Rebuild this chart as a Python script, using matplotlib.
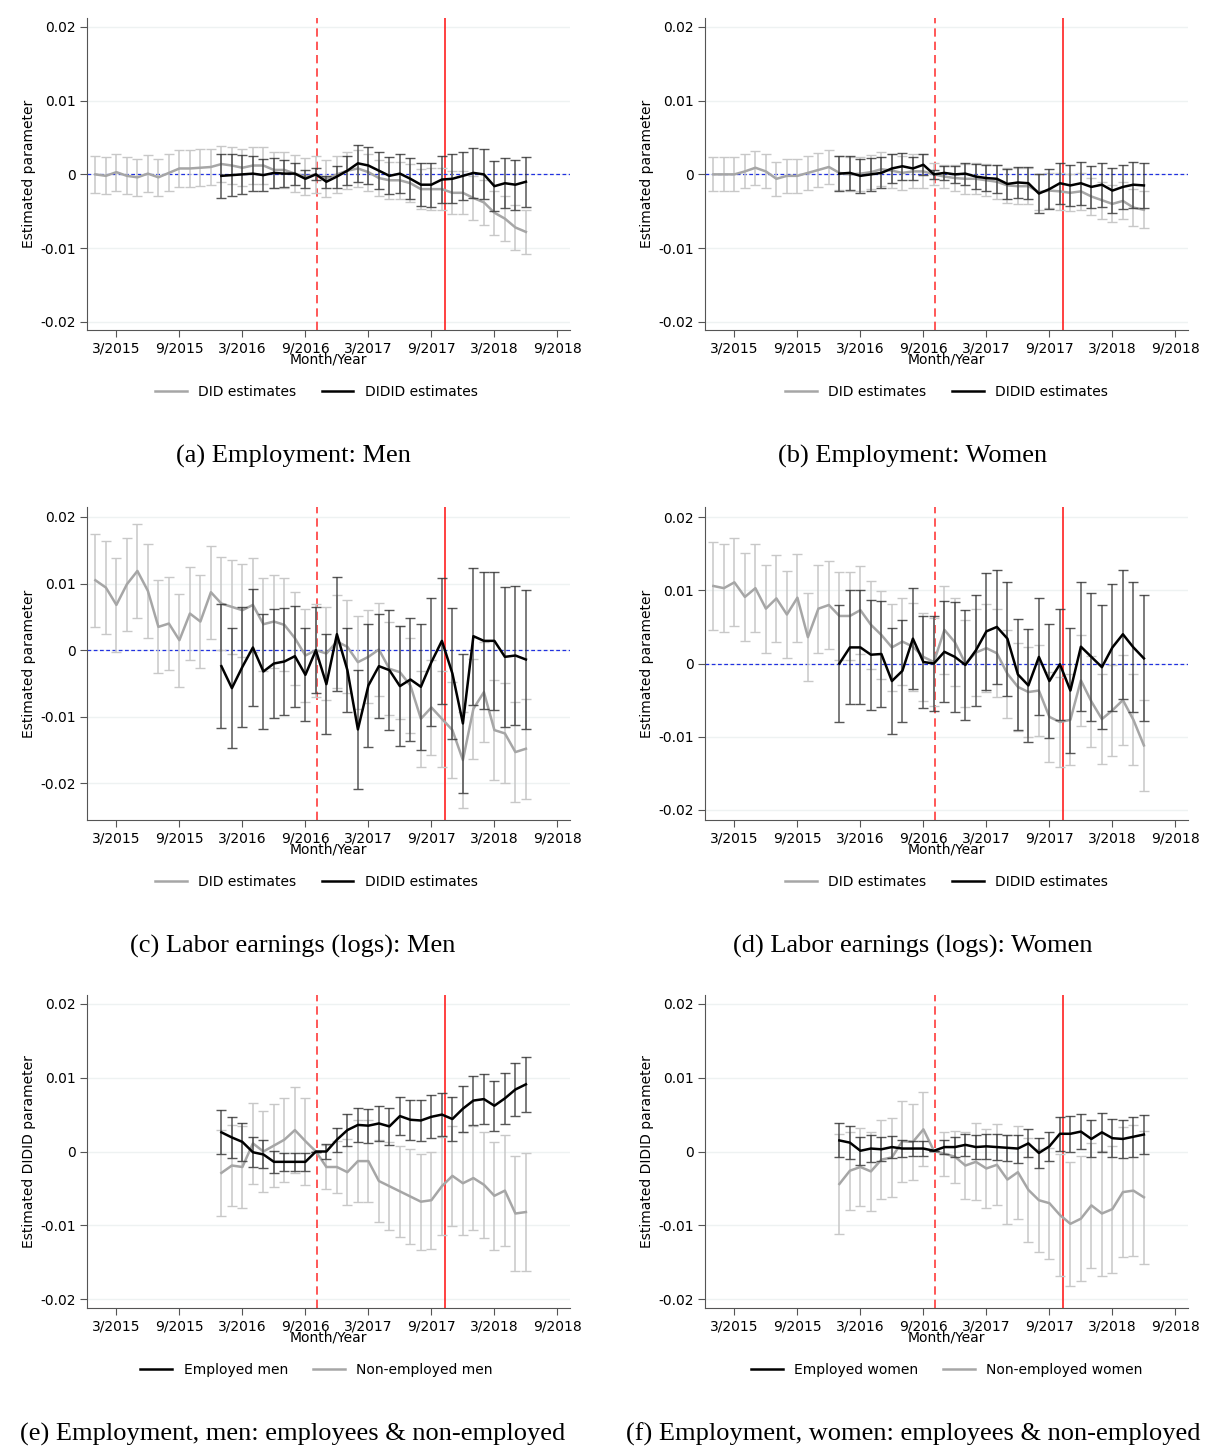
import numpy as np
from matplotlib import pyplot as plt
from matplotlib.lines import Line2D

# month index: 0 = 1/2015 ... 41 = 6/2018
t_did = np.arange(0, 42)
t_didid = np.arange(12, 42)

tick_pos = [2, 8, 14, 20, 26, 32, 38, 44]
tick_lab = ['3/2015', '9/2015', '3/2016', '9/2016', '3/2017', '9/2017', '3/2018', '9/2018']

# values in units of 0.001
a_did = [0.0, -0.2, 0.3, -0.2, -0.4, 0.1, -0.4, 0.2, 0.8, 0.8, 0.9, 1.0,
         1.4, 1.2, 0.9, 1.2, 1.2, 0.6, 0.6, 0.1, -0.3, 0.0, -0.6, 0.0, 0.5, 0.8,
         0.3, -0.5, -0.8, -0.8, -1.2, -2.0, -2.0, -2.0, -2.5, -2.5, -3.2, -3.8,
         -5.2, -6.0, -7.2, -7.8]
a_did_ci = [2.5] * 30 + [2.6, 2.7, 2.8, 2.8, 2.9, 2.9, 3.0, 3.0, 3.0, 3.0, 3.0, 3.0]
a_didid = [-0.2, -0.1, 0.0, 0.1, -0.1, 0.2, 0.1, 0.1, -0.6, 0.0, -1.0, -0.3, 0.5,
           1.5, 1.2, 0.5, -0.2, 0.1, -0.6, -1.4, -1.4, -0.7, -0.6, -0.2, 0.2, 0.0,
           -1.6, -1.2, -1.4, -1.0]
a_didid_ci = [3.0, 2.8, 2.6, 2.4, 2.2, 2.0, 1.8, 1.5, 1.2, 0.8, 0.8, 1.5, 2.0, 2.5,
              2.5, 2.5, 2.5, 2.6, 2.8, 2.9, 3.0, 3.2, 3.3, 3.3, 3.4, 3.4, 3.4, 3.4,
              3.4, 3.4]

b_did = [0.0, 0.0, 0.0, 0.4, 0.9, 0.4, -0.6, -0.2, -0.2, 0.2, 0.6, 1.0, 0.2, 0.0,
         0.1, 0.3, 0.7, 0.5, 0.2, 0.4, 0.4, 0.0, -0.3, -0.5, -0.6, -0.6, -0.8,
         -1.0, -1.5, -1.6, -1.6, -2.4, -2.2, -2.3, -2.5, -2.3, -3.0, -3.5, -4.0,
         -3.6, -4.5, -4.8]
b_did_ci = [2.3] * 21 + [1.5, 1.6, 1.8, 2.0, 2.1, 2.2, 2.3, 2.4, 2.4, 2.4, 2.4,
                         2.4, 2.5, 2.5, 2.5, 2.5, 2.5, 2.5, 2.5, 2.5, 2.5]
b_didid = [0.1, 0.2, -0.2, 0.0, 0.2, 0.8, 1.1, 0.8, 1.3, 0.0, 0.2, 0.0, 0.1, -0.3,
           -0.5, -0.6, -1.3, -1.1, -1.2, -2.6, -2.0, -1.2, -1.5, -1.2, -1.7, -1.4,
           -2.2, -1.7, -1.4, -1.5]
b_didid_ci = [2.4, 2.3, 2.3, 2.2, 2.1, 2.0, 1.8, 1.6, 1.4, 0.6, 1.0, 1.2, 1.5, 1.7,
              1.8, 1.9, 2.0, 2.1, 2.2, 2.6, 2.7, 2.8, 2.8, 2.9, 2.9, 3.0, 3.0, 3.0,
              3.1, 3.1]

c_did = [10.5, 9.4, 6.8, 9.9, 11.9, 8.9, 3.5, 4.0, 1.5, 5.5, 4.3, 8.7, 7.0, 6.5,
         6.0, 6.8, 3.9, 4.3, 3.8, 1.8, -0.8, 0.0, -0.5, 1.3, 0.5, -1.8, -1.0, 0.1,
         -2.8, -3.3, -5.3, -10.3, -8.6, -10.3, -12.0, -16.5, -8.8, -6.3, -12.0,
         -12.5, -15.3, -14.8]
c_did_ci = [7.0] * 30 + [7.2] * 6 + [7.5] * 6
c_didid = [-2.4, -5.7, -2.5, 0.4, -3.2, -2.0, -1.7, -0.9, -3.7, 0.0, -5.1, 2.4,
           -3.0, -11.9, -5.3, -2.4, -3.0, -5.4, -4.4, -5.5, -1.8, 1.4, -3.5, -11.0,
           2.1, 1.4, 1.4, -1.0, -0.8, -1.4]
c_didid_ci = [9.3, 9.0, 9.0, 8.8, 8.6, 8.2, 8.0, 7.6, 7.0, 6.5, 7.5, 8.6, 6.3, 8.9,
              9.2, 7.8, 9.0, 9.0, 9.3, 9.5, 9.6, 9.5, 9.8, 10.5, 10.3, 10.3, 10.4,
              10.5, 10.4, 10.5]

d_did = [10.6, 10.3, 11.1, 9.1, 10.3, 7.5, 8.9, 6.7, 9.0, 3.6, 7.5, 8.0, 6.5, 6.5,
         7.3, 5.3, 3.9, 2.2, 3.0, 2.3, 0.9, 0.2, 4.6, 2.9, 0.0, 1.5, 2.1, 1.4,
         -1.4, -3.2, -3.9, -3.7, -7.3, -8.0, -7.7, -2.3, -5.2, -7.6, -6.4, -5.0,
         -7.7, -11.2]
d_did_ci = [6.0] * 30 + [6.2] * 12
d_didid = [0.0, 2.2, 2.2, 1.2, 1.3, -2.4, -1.0, 3.4, 0.2, 0.0, 1.6, 0.9, -0.2, 1.8,
           4.4, 5.0, 3.4, -1.5, -3.0, 0.9, -2.4, -0.1, -3.7, 2.3, 0.9, -0.5, 2.2,
           4.0, 2.2, 0.7]
d_didid_ci = [8.0, 7.8, 7.8, 7.5, 7.3, 7.3, 7.0, 6.9, 6.3, 6.5, 6.9, 7.5, 7.5, 7.6,
              8.0, 7.8, 7.8, 7.6, 7.7, 8.0, 7.8, 7.6, 8.5, 8.8, 8.7, 8.5, 8.7, 8.8,
              8.9, 8.6]

e_emp = [2.6, 1.9, 1.3, -0.1, -0.4, -1.4, -1.4, -1.4, -1.4, 0.0, 0.0, 1.6, 2.9,
         3.6, 3.5, 3.8, 3.4, 4.8, 4.3, 4.2, 4.7, 5.0, 4.4, 5.8, 6.9, 7.1, 6.2, 7.2,
         8.4, 9.1]
e_emp_ci = [3.0, 2.8, 2.6, 2.0, 1.9, 1.5, 1.2, 1.2, 1.2, 0.0, 1.0, 1.6, 2.2, 2.3,
            2.3, 2.4, 2.5, 2.6, 2.7, 2.8, 2.9, 2.9, 3.0, 3.1, 3.3, 3.4, 3.4, 3.5,
            3.6, 3.7]
e_non = [-2.9, -1.9, -2.1, 1.1, 0.0, 0.8, 1.6, 2.9, 1.4, 0.0, -2.1, -2.1, -2.8,
         -1.3, -1.3, -4.0, -4.7, -5.4, -6.1, -6.8, -6.6, -4.7, -3.3, -4.3, -3.6,
         -4.5, -6.0, -5.3, -8.4, -8.2]
e_non_ci = [5.8, 5.5, 5.5, 5.5, 5.5, 5.6, 5.7, 5.8, 5.9, 0.0, 3.0, 3.5, 4.5, 5.5,
            5.5, 5.6, 6.0, 6.2, 6.4, 6.5, 6.6, 6.6, 6.8, 7.0, 7.1, 7.2, 7.3, 7.5,
            7.8, 8.0]

f_emp = [1.5, 1.2, 0.1, 0.4, 0.3, 0.6, 0.4, 0.4, 0.4, 0.1, 0.6, 0.6, 0.9, 0.6, 0.7,
         0.6, 0.5, 0.4, 1.1, -0.2, 0.7, 2.4, 2.4, 2.7, 1.7, 2.6, 1.8, 1.7, 2.0, 2.3]
f_emp_ci = [2.3, 2.2, 1.9, 1.8, 1.6, 1.5, 1.2, 1.0, 1.0, 0.0, 1.0, 1.3, 1.5, 1.6,
            1.7, 1.8, 1.8, 1.9, 1.9, 2.0, 2.0, 2.3, 2.4, 2.4, 2.5, 2.6, 2.6, 2.6,
            2.7, 2.7]
f_non = [-4.4, -2.6, -2.1, -2.7, -1.1, -0.8, 1.4, 1.3, 3.0, 0.1, -0.3, -0.7, -1.9,
         -1.4, -2.3, -1.8, -3.8, -2.8, -5.2, -6.6, -7.0, -8.6, -9.8, -9.1, -7.3,
         -8.4, -7.8, -5.5, -5.3, -6.2]
f_non_ci = [6.8, 5.3, 5.3, 5.3, 5.3, 5.3, 5.5, 5.2, 5.0, 0.0, 3.0, 3.5, 4.5, 5.2,
            5.3, 5.5, 6.0, 6.3, 7.0, 7.0, 7.5, 8.2, 8.4, 8.5, 8.5, 8.5, 8.6, 8.8,
            8.9, 9.0]

captions = ['(a) Employment: Men', '(b) Employment: Women',
            '(c) Labor earnings (logs): Men', '(d) Labor earnings (logs): Women',
            '(e) Employment, men: employees & non-employed',
            '(f) Employment, women: employees & non-employed']

GRAY_LINE = '#a6a6a6'
GRAY_BAR = '#c8c8c8'
BLACK_BAR = '#3a3a3a'

W, H = 1207, 1447
fig = plt.figure(figsize=(W / 100, H / 100), dpi=100)

cols = [(87, 570), (705, 1188)]
rows = [(18, 330), (507, 820), (995, 1308)]
ylims = [(-0.0211, 0.0212), (-0.0211, 0.0212), (-0.0255, 0.0215),
         (-0.0214, 0.0214), (-0.0212, 0.0212), (-0.0212, 0.0212)]

panels = [
    ('did', a_did, a_did_ci, a_didid, a_didid_ci),
    ('did', b_did, b_did_ci, b_didid, b_didid_ci),
    ('did', c_did, c_did_ci, c_didid, c_didid_ci),
    ('did', d_did, d_did_ci, d_didid, d_didid_ci),
    ('emp', e_non, e_non_ci, e_emp, e_emp_ci),
    ('emp', f_non, f_non_ci, f_emp, f_emp_ci),
]

for i, (kind, g, gci, k, kci) in enumerate(panels):
    r, c = divmod(i, 2)
    x0, x1 = cols[c]
    y0, y1 = rows[r]
    ax = fig.add_axes([x0 / W, 1 - y1 / H, (x1 - x0) / W, (y1 - y0) / H])
    g = np.array(g) / 1000
    gci = np.array(gci) / 1000
    k = np.array(k) / 1000
    kci = np.array(kci) / 1000
    tg = t_did if kind == 'did' else t_didid

    ax.axvline(21.15, color='#ff3b3b', ls=(0, (5, 3)), lw=1.2, zorder=1)
    ax.axvline(33.3, color='#ff2020', lw=1.2, zorder=1)
    if kind == 'did':
        ax.axhline(0, color='#2030e0', ls=(0, (3, 2)), lw=0.9, zorder=1)

    ax.errorbar(tg, g, yerr=gci, fmt='none', ecolor=GRAY_BAR, elinewidth=1.1,
                capsize=3.5, capthick=1.0, zorder=2)
    ax.plot(tg, g, color=GRAY_LINE, lw=1.8, zorder=3)
    ax.errorbar(t_didid, k, yerr=kci, fmt='none', ecolor=BLACK_BAR, elinewidth=1.1,
                capsize=3.5, capthick=1.0, alpha=0.85, zorder=4)
    ax.plot(t_didid, k, color='black', lw=1.8, zorder=5)

    ax.set_xlim(-0.8, 45.2)
    ax.set_ylim(*ylims[i])
    ax.set_xticks(tick_pos)
    ax.set_xticklabels(tick_lab, fontsize=10)
    ax.set_yticks([-0.02, -0.01, 0, 0.01, 0.02])
    ax.set_yticklabels(['-0.02', '-0.01', '0', '0.01', '0.02'], fontsize=10)
    ax.grid(axis='y', color='#eef2f2', lw=1)
    ax.set_axisbelow(True)
    for s in ['top', 'right']:
        ax.spines[s].set_visible(False)
    ax.spines['left'].set_color('#555555')
    ax.spines['bottom'].set_color('#555555')
    ax.tick_params(direction='out', length=5, color='#555555', pad=3)
    ax.set_xlabel('Month/Year', fontsize=10, labelpad=-2)
    ylab = 'Estimated parameter' if kind == 'did' else 'Estimated DIDID parameter'
    ax.set_ylabel(ylab, fontsize=10, labelpad=3)

    cx = (x0 + x1) / 2 / W - (0.01 if c == 0 else 0.0)
    if kind == 'did':
        handles = [Line2D([], [], color=GRAY_LINE, lw=1.8),
                   Line2D([], [], color='black', lw=1.8)]
        labels = ['DID estimates', 'DIDID estimates']
    else:
        who = 'men' if c == 0 else 'women'
        handles = [Line2D([], [], color='black', lw=1.8),
                   Line2D([], [], color=GRAY_LINE, lw=1.8)]
        labels = ['Employed ' + who, 'Non-employed ' + who]
    fig.legend(handles, labels, loc='center', bbox_to_anchor=(cx, 1 - (y1 + 62) / H),
               ncol=2, frameon=False, fontsize=10, handlelength=2.3,
               columnspacing=1.8)

    capx = [293, 913][c]
    fig.text(capx / W, 1 - (y1 + 126) / H, captions[i], ha='center', va='center',
             fontsize=19, family='Liberation Serif')

fig.savefig('out.png', dpi=100)
